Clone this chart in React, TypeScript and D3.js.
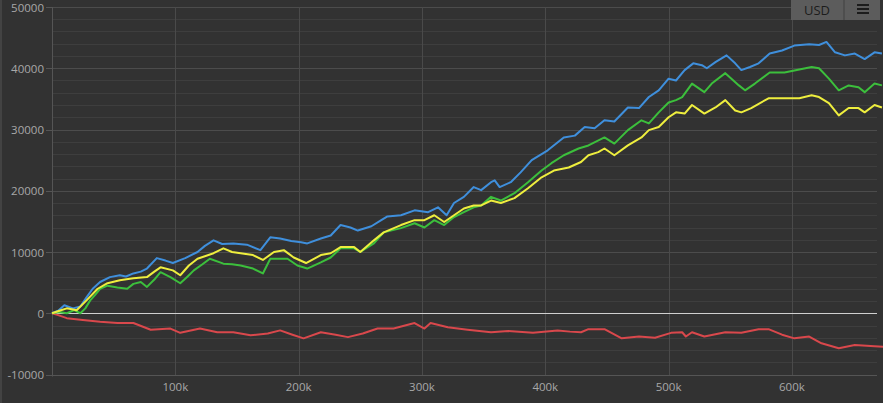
import React from "react";
import * as d3 from "d3";

type P = [number, number];

const xTicks = [100, 200, 300, 400, 500, 600];
const yTicks = [-10000, 0, 10000, 20000, 30000, 40000, 50000];
const currencyLabel = "USD";

const blueSeries: P[] = [
  [0, 0], [5, 400], [10, 1300], [17, 800], [23, 1100], [28, 2600], [33, 4000], [39, 5100], [47, 5900],
  [55, 6200], [60, 6000], [66, 6500], [72, 6800], [77, 7300], [85, 9000], [92, 8600], [98, 8200],
  [108, 9000], [118, 10000], [124, 11000], [131, 11900], [138, 11300], [147, 11400], [158, 11200],
  [169, 10300], [177, 12400], [185, 12200], [194, 11800], [202, 11600], [207, 11400], [218, 12200],
  [226, 12700], [234, 14400], [242, 14000], [248, 13500], [259, 14200], [267, 15200], [272, 15800],
  [283, 16000], [294, 16800], [305, 16500], [313, 17300], [320, 16000], [326, 18000], [334, 19000],
  [342, 20600], [348, 20100], [356, 21400], [359, 21700], [363, 20600], [372, 21400], [380, 23000],
  [389, 25000], [402, 26600], [415, 28700], [424, 29000], [432, 30400], [440, 30200], [448, 31500],
  [456, 31300], [467, 33600], [476, 33500], [484, 35300], [492, 36400], [500, 38300], [506, 38000],
  [513, 39700], [520, 40800], [527, 40500], [531, 40000], [538, 41000], [547, 42100], [554, 40800],
  [559, 39700], [566, 40200], [573, 40800], [582, 42400], [592, 42900], [602, 43700], [614, 43900],
  [622, 43800], [628, 44300], [635, 42600], [643, 42100], [651, 42400], [659, 41500], [667, 42600],
  [673, 42400],
];

const greenSeries: P[] = [
  [0, 0], [6, 200], [12, 0], [18, 500], [23, 0], [27, 800], [31, 2100], [35, 3000], [39, 4000],
  [45, 4500], [53, 4200], [61, 4000], [66, 4800], [72, 5100], [77, 4300], [83, 5500], [88, 6700],
  [96, 5900], [104, 4900], [110, 6000], [115, 7000], [122, 8000], [128, 8900], [139, 8100], [146, 8000],
  [153, 7800], [163, 7300], [171, 6500], [177, 8900], [191, 8900], [199, 7800], [207, 7300], [218, 8300],
  [226, 9100], [234, 10600], [245, 10600], [250, 10000], [261, 11400], [269, 13200], [283, 13900],
  [294, 14700], [302, 14000], [310, 15200], [318, 14400], [326, 15700], [334, 16500], [342, 17300],
  [348, 17600], [356, 19000], [364, 18400], [375, 19600], [386, 21400], [397, 23300], [405, 24500],
  [415, 25800], [427, 26900], [435, 27400], [448, 28700], [456, 27700], [467, 29900], [478, 31500],
  [484, 31000], [492, 32800], [500, 34400], [506, 34800], [511, 35300], [519, 37500], [529, 36100],
  [535, 37500], [546, 39200], [557, 37200], [562, 36400], [570, 37500], [582, 39300], [594, 39300],
  [606, 39800], [616, 40200], [622, 40000], [630, 38300], [638, 36400], [646, 37200], [654, 36900],
  [659, 36100], [667, 37500], [673, 37200],
];

const yellowSeries: P[] = [
  [0, 0], [6, 400], [12, 800], [20, 500], [28, 2100], [37, 4000], [45, 4900], [55, 5400], [66, 5700],
  [77, 5900], [83, 6800], [88, 7500], [98, 7000], [104, 6200], [111, 7800], [118, 8900], [131, 9800],
  [139, 10600], [146, 10000], [153, 9800], [163, 9500], [171, 8700], [180, 10000], [188, 10300],
  [196, 9100], [206, 8200], [218, 9500], [226, 9800], [234, 10800], [245, 10800], [250, 10000],
  [261, 11900], [269, 13200], [283, 14400], [294, 15200], [302, 15200], [310, 16000], [318, 14900],
  [326, 16000], [334, 17100], [342, 17600], [348, 17600], [356, 18400], [364, 18000], [375, 18800],
  [386, 20400], [397, 22200], [407, 23300], [419, 23800], [429, 24700], [435, 25800], [443, 26300],
  [448, 26900], [456, 25800], [467, 27400], [478, 28700], [484, 29900], [492, 30400], [500, 32000],
  [506, 32800], [513, 32600], [519, 34000], [529, 32600], [538, 33600], [546, 34800], [554, 33100],
  [559, 32800], [567, 33500], [581, 35100], [594, 35100], [606, 35100], [616, 35600], [622, 35300],
  [630, 34300], [638, 32300], [646, 33500], [654, 33500], [659, 32800], [667, 34000], [673, 33600],
];

const redSeries: P[] = [
  [0, 0], [5, -300], [12, -800], [25, -1100], [39, -1400], [53, -1600], [66, -1600], [80, -2700],
  [96, -2500], [104, -3200], [120, -2500], [134, -3100], [147, -3100], [161, -3600], [175, -3300],
  [185, -2800], [195, -3500], [204, -4100], [218, -3100], [230, -3500], [240, -3900], [252, -3300],
  [264, -2500], [277, -2500], [294, -1600], [302, -2500], [307, -1600], [321, -2300], [337, -2700],
  [356, -3100], [370, -2900], [390, -3200], [410, -2800], [420, -3000], [429, -3100], [435, -2600],
  [448, -2600], [462, -4100], [476, -3800], [489, -4000], [502, -3200], [511, -3100], [514, -3800],
  [519, -3100], [529, -3800], [546, -3100], [559, -3200], [573, -2600], [581, -2600], [592, -3500],
  [602, -4100], [614, -3800], [624, -4900], [638, -5700], [651, -5200], [667, -5400], [675, -5500],
];

const W = 883;
const H = 403;
const left = 52;
const right = 877;
const top = 7;
const bottom = 374.5;

export default function App() {
  const x = d3.scaleLinear().domain([0, 669]).range([left, right]);
  const y = d3.scaleLinear().domain([-10000, 50000]).range([bottom, top]);
  const line = d3
    .line<P>()
    .x((d) => x(d[0]))
    .y((d) => y(d[1]));

  const minor = d3.range(-10000, 50001, 2000);
  const font = "'Open Sans', 'DejaVu Sans', sans-serif";

  const series: { data: P[]; color: string }[] = [
    { data: redSeries, color: "#d9484c" },
    { data: blueSeries, color: "#3f8fdc" },
    { data: greenSeries, color: "#3cbf3c" },
    { data: yellowSeries, color: "#eeee3e" },
  ];

  return (
    <div style={{ position: "fixed", left: 0, top: 0, width: W, height: H }}>
      <svg width={W} height={H} style={{ display: "block", background: "#323232" }}>
        <line x1={1} x2={1} y1={0} y2={H} stroke="#555" strokeWidth={1} />
        {minor.map((v) => (
          <line
            key={"m" + v}
            x1={left}
            x2={right}
            y1={Math.round(y(v)) + 0.5}
            y2={Math.round(y(v)) + 0.5}
            stroke={v % 10000 === 0 ? "#4c4c4c" : "#3e3e3e"}
            strokeWidth={1}
          />
        ))}
        {xTicks.map((t) => (
          <line
            key={"v" + t}
            x1={Math.round(x(t)) + 0.5}
            x2={Math.round(x(t)) + 0.5}
            y1={top}
            y2={bottom + 1}
            stroke="#4a4a4a"
            strokeWidth={1}
          />
        ))}
        <line x1={left + 0.5} x2={left + 0.5} y1={top} y2={bottom + 2} stroke="#555" />
        <line x1={left - 6} x2={right} y1={Math.round(bottom) + 0.5} y2={Math.round(bottom) + 0.5} stroke="#555" />
        {yTicks.map((t) => (
          <line
            key={"yt" + t}
            x1={left - 6}
            x2={left}
            y1={Math.round(y(t)) + 0.5}
            y2={Math.round(y(t)) + 0.5}
            stroke="#555"
          />
        ))}
        <line
          x1={left}
          x2={right}
          y1={Math.round(y(0)) + 0.5}
          y2={Math.round(y(0)) + 0.5}
          stroke="#d0d0d0"
          strokeWidth={1}
        />
        {series.map((s, i) => (
          <path
            key={i}
            d={line(s.data) || ""}
            fill="none"
            stroke={s.color}
            strokeWidth={2}
            strokeLinejoin="round"
          />
        ))}
        {yTicks.map((t) => (
          <text
            key={"yl" + t}
            x={44}
            y={y(t)}
            textAnchor="end"
            dominantBaseline="central"
            fontFamily={font}
            fontSize={11.5}
            fill="#a8a8a8"
          >
            {t}
          </text>
        ))}
        {xTicks.map((t) => (
          <text
            key={"xl" + t}
            x={x(t)}
            y={386}
            textAnchor="middle"
            dominantBaseline="central"
            fontFamily={font}
            fontSize={11.5}
            fill="#a8a8a8"
          >
            {t + "k"}
          </text>
        ))}
        <rect x={791} y={0} width={52} height={20} fill="#5c5c5c" />
        <rect x={843} y={0} width={2} height={20} fill="#4e4e4e" />
        <rect x={845} y={0} width={35} height={20} fill="#5c5c5c" />
        <text
          x={817}
          y={10}
          textAnchor="middle"
          dominantBaseline="central"
          fontFamily={font}
          fontSize={13}
          fill="#1c1c1c"
        >
          {currencyLabel}
        </text>
        {[5, 9, 13].map((yy) => (
          <rect key={"b" + yy} x={857} y={yy - 1} width={12} height={2} fill="#1c1c1c" />
        ))}
      </svg>
    </div>
  );
}
